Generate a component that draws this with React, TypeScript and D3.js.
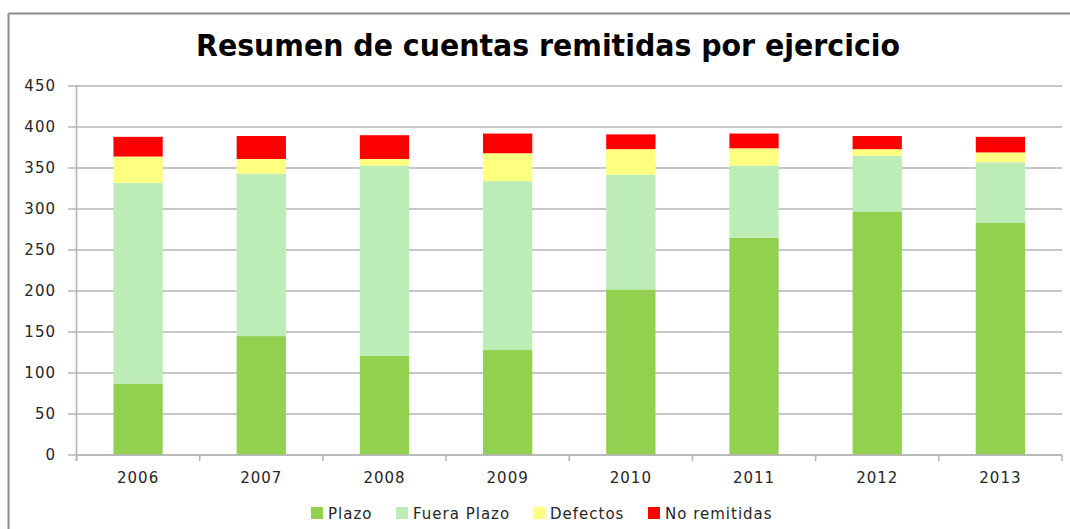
import React from "react";
import * as d3 from "d3";

const years = ["2006", "2007", "2008", "2009", "2010", "2011", "2012", "2013"];
const plazo = [87, 145, 121, 128, 202, 265, 297, 283];
const fueraPlazo = [245, 198, 232, 206, 140, 88, 68, 74];
const defectos = [32, 18, 8, 34, 31, 21, 8, 12];
const noRemitidas = [24, 28, 29, 24, 18, 18, 16, 19];
const seriesNames = ["Plazo", "Fuera Plazo", "Defectos", "No remitidas"];
const seriesColors = ["#92D050", "#BDEDB7", "#FFFF80", "#FF0000"];
const yTicks = [0, 50, 100, 150, 200, 250, 300, 350, 400, 450];
const title = "Resumen de cuentas remitidas por ejercicio";

const W = 1070;
const H = 529;
const plotLeft = 76.5;
const plotRight = 1062;
const plotTop = 86;
const plotBottom = 455;

export default function App() {
  const x = d3.scaleBand<string>().domain(years).range([plotLeft, plotRight]).paddingInner(0.6).paddingOuter(0.3);
  const y = d3.scaleLinear().domain([0, 450]).range([plotBottom, plotTop]);
  const rows = years.map((yr, i) => ({
    year: yr,
    Plazo: plazo[i],
    "Fuera Plazo": fueraPlazo[i],
    Defectos: defectos[i],
    "No remitidas": noRemitidas[i],
  }));
  const stacked = d3.stack<any>().keys(seriesNames)(rows);
  const step = (plotRight - plotLeft) / years.length;
  const boundaries = d3.range(years.length + 1).map((i) => plotLeft + i * step);
  const font = "'DejaVu Sans', sans-serif";
  const textColor = "#262626";

  const legendItems = [
    { sx: 311, tx: 328 },
    { sx: 396, tx: 413 },
    { sx: 533, tx: 550 },
    { sx: 648, tx: 665 },
  ];

  return (
    <svg width={W} height={H} style={{ position: "absolute", left: 0, top: 0, background: "#fff" }}>
      <rect x={0} y={0} width={W} height={H} fill="#fff" />
      {/* outer frame */}
      <line x1={8.5} y1={13.5} x2={W} y2={13.5} stroke="#8c8c8c" strokeWidth={2} />
      <line x1={8.5} y1={13.5} x2={8.5} y2={H} stroke="#8c8c8c" strokeWidth={2} />
      {/* title */}
      <text x={196} y={56} fontFamily="'DejaVu Sans Condensed', 'DejaVu Sans', sans-serif" fontWeight="bold" fontSize={31} fill="#000" textLength={704} lengthAdjust="spacingAndGlyphs">
        {title}
      </text>
      {/* gridlines + y ticks */}
      {yTicks.map((t) => (
        <g key={t}>
          <line x1={68} x2={plotRight} y1={y(t)} y2={y(t)} stroke="#b4b4b4" strokeWidth={1.6} />
          <text x={56} y={y(t)} dy="0.36em" textAnchor="end" fontFamily={font} fontSize={15} letterSpacing={1} fill={textColor}>
            {t}
          </text>
        </g>
      ))}
      {/* bars */}
      {stacked.map((s, si) => (
        <g key={s.key} fill={seriesColors[si]}>
          {s.map((d, i) => (
            <rect key={i} x={x(years[i])} width={x.bandwidth()} y={y(d[1])} height={y(d[0]) - y(d[1])} />
          ))}
        </g>
      ))}
      {/* y axis */}
      <line x1={plotLeft} x2={plotLeft} y1={plotTop - 1} y2={plotBottom + 6} stroke="#b4b4b4" strokeWidth={1.6} />
      {/* x axis */}
      <line x1={plotLeft} x2={plotRight} y1={plotBottom} y2={plotBottom} stroke="#b4b4b4" strokeWidth={1.6} />
      {boundaries.map((b, i) => (
        <line key={i} x1={b} x2={b} y1={plotBottom} y2={plotBottom + 6} stroke="#b4b4b4" strokeWidth={1.6} />
      ))}
      {years.map((yr) => (
        <text key={yr} x={(x(yr) as number) + x.bandwidth() / 2} y={483} textAnchor="middle" fontFamily={font} fontSize={15} letterSpacing={1} fill={textColor}>
          {yr}
        </text>
      ))}
      {/* legend */}
      {seriesNames.map((n, i) => (
        <g key={n}>
          <rect x={legendItems[i].sx} y={507} width={12} height={12} fill={seriesColors[i]} />
          <text x={legendItems[i].tx} y={519} fontFamily={font} fontSize={15} letterSpacing={1} fill={textColor}>
            {n}
          </text>
        </g>
      ))}
    </svg>
  );
}
